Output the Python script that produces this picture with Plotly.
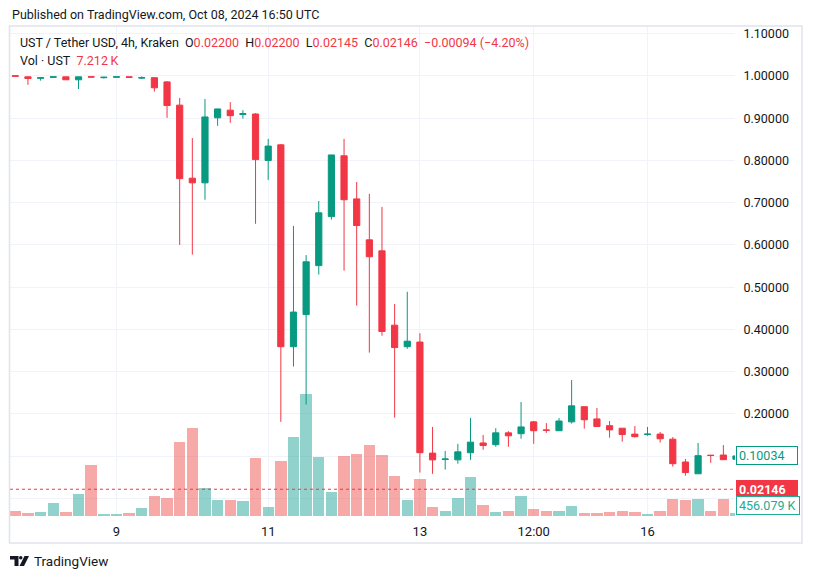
import plotly.graph_objects as go
import pandas as pd

# UST / Tether USD, 4h candles, Kraken (May 2022 depeg)
times = pd.date_range("2022-05-07 16:00", periods=58, freq="4h").strftime("%Y-%m-%d %H:%M").tolist()

opens = [1.0005, 0.998, 0.9945, 0.997, 0.998, 0.991, 0.998, 0.996, 0.997, 0.998,
         0.995, 0.996, 0.986, 0.931, 0.758, 0.747, 0.901, 0.919, 0.909, 0.910,
         0.800, 0.837, 0.359, 0.435, 0.551, 0.667, 0.811, 0.709, 0.612, 0.586,
         0.410, 0.359, 0.370, 0.107, 0.092, 0.091, 0.108, 0.131, 0.127, 0.155,
         0.153, 0.181, 0.162, 0.160, 0.181, 0.217, 0.188, 0.172, 0.166, 0.152,
         0.151, 0.152, 0.140, 0.086, 0.058, 0.102, 0.1025, 0.0925]
highs = [1.001, 0.999, 0.9965, 0.998, 0.998, 0.998, 0.999, 0.998, 0.998, 0.998,
         0.999, 0.996, 0.988, 0.948, 0.853, 0.9455, 0.922, 0.938, 0.919, 0.912,
         0.851, 0.839, 0.645, 0.576, 0.704, 0.813, 0.851, 0.749, 0.721, 0.690,
         0.460, 0.489, 0.391, 0.169, 0.112, 0.129, 0.190, 0.150, 0.166, 0.159,
         0.228, 0.183, 0.178, 0.190, 0.280, 0.217, 0.214, 0.183, 0.166, 0.171,
         0.169, 0.157, 0.145, 0.093, 0.131, 0.102, 0.126, 0.1005]
lows = [0.999, 0.979, 0.989, 0.997, 0.991, 0.969, 0.997, 0.994, 0.997, 0.997,
        0.993, 0.963, 0.901, 0.600, 0.577, 0.707, 0.882, 0.889, 0.899, 0.650,
        0.754, 0.181, 0.312, 0.222, 0.530, 0.660, 0.539, 0.456, 0.345, 0.385,
        0.191, 0.354, 0.061, 0.058, 0.068, 0.082, 0.091, 0.115, 0.122, 0.122,
        0.141, 0.129, 0.155, 0.160, 0.177, 0.165, 0.170, 0.1435, 0.134, 0.1435,
        0.148, 0.132, 0.075, 0.0535, 0.058, 0.084, 0.0915, 0.0925]
closes = [0.9995, 0.994, 0.996, 0.998, 0.991, 0.998, 0.9975, 0.997, 0.998, 0.997,
          0.996, 0.972, 0.930, 0.757, 0.747, 0.903, 0.922, 0.906, 0.911, 0.802,
          0.834, 0.359, 0.441, 0.560, 0.676, 0.813, 0.707, 0.646, 0.572, 0.395,
          0.357, 0.372, 0.108, 0.091, 0.093, 0.110, 0.133, 0.125, 0.155, 0.148,
          0.169, 0.160, 0.161, 0.183, 0.219, 0.186, 0.170, 0.162, 0.151, 0.146,
          0.152, 0.141, 0.082, 0.061, 0.101, 0.1015, 0.0915, 0.10034]
# volume in millions of UST
volumes = [0.72, 0.46, 0.56, 1.93, 0.56, 3.30, 7.72, 0.26, 0.26, 0.41,
           1.17, 3.00, 2.69, 11.22, 13.35, 4.22, 2.39, 2.39, 2.24, 8.78,
           1.32, 8.33, 11.98, 18.52, 8.93, 3.61, 9.09, 9.39, 10.76, 9.24,
           6.04, 2.39, 5.59, 1.32, 0.72, 2.69, 5.89, 1.63, 0.56, 0.72,
           3.00, 1.02, 0.72, 0.72, 1.48, 0.41, 0.41, 0.56, 0.72, 0.56,
           0.26, 0.72, 2.54, 2.39, 2.54, 0.72, 2.54, 0.456079]

tick_times = ["2022-05-09 00:00", "2022-05-11 00:00", "2022-05-13 00:00",
              "2022-05-14 12:00", "2022-05-16 00:00"]
tick_labels = ["9", "11", "13", "12:00", "16"]
price_ticks = [0.0, 0.1, 0.2, 0.3, 0.4, 0.5, 0.6, 0.7, 0.8, 0.9, 1.0, 1.1]
# 0 and 0.1 labels sit behind the last-value boxes, so they stay blank
price_labels = ["", ""] + [f"{v:.5f}" for v in price_ticks[2:]]

last_close = 0.10034
current_price = 0.02146
last_volume = 0.456079

UP = "#089981"
DOWN = "#F23645"
TEXT = "#131722"
GRID = "#F0F3FA"
FONT = "Roboto"

# page body has an 8px margin, so the figure is a bit smaller than the window
OFF = 8
W, H = 813 - OFF, 579 - OFF
L, R, T, B = 2, 78, 19, 63
PW, PH = W - L - R, H - T - B


def px_x(x):
    # screen pixel -> paper fraction
    return (x - OFF - L) / PW


def px_y(y):
    return (H - B - (y - OFF)) / PH


vol_colors = ["rgba(38,166,154,0.5)" if c > o else "rgba(239,83,80,0.5)"
              for o, c in zip(opens, closes)]

fig = go.Figure()
fig.add_trace(go.Bar(x=times, y=volumes, marker=dict(color=vol_colors, line_width=0),
                     width=0.9, yaxis="y", hoverinfo="skip"))
fig.add_trace(go.Candlestick(x=times, open=opens, high=highs, low=lows, close=closes,
                             yaxis="y2", whiskerwidth=0,
                             increasing=dict(line=dict(color=UP, width=1), fillcolor=UP),
                             decreasing=dict(line=dict(color=DOWN, width=1), fillcolor=DOWN)))

fig.update_layout(
    width=W, height=H,
    margin=dict(l=L, r=R, t=T, b=B),
    paper_bgcolor="white", plot_bgcolor="white",
    showlegend=False, boxgap=0.3, bargap=0,
    font=dict(family=FONT, color=TEXT, size=12),
    xaxis=dict(type="category", range=[-0.42, 56.92], tickvals=tick_times, ticktext=tick_labels,
               showgrid=True, gridcolor=GRID, gridwidth=1, ticks="outside", ticklen=3,
               tickcolor="rgba(0,0,0,0)", tickfont=dict(size=13, color=TEXT),
               zeroline=False, showline=False, rangeslider=dict(visible=False)),
    yaxis=dict(range=[0, 74.4], visible=False, fixedrange=True),
    yaxis2=dict(overlaying="y", side="right", range=[-0.0419, 1.116], tickvals=price_ticks,
                ticktext=price_labels, showgrid=True, gridcolor=GRID, gridwidth=1,
                ticks="outside", ticklen=5, tickcolor="rgba(0,0,0,0)",
                tickfont=dict(size=12.5, color=TEXT), zeroline=False, showline=False),
)

# current price line
fig.add_shape(type="line", xref="paper", x0=0, x1=1, yref="y2", y0=current_price, y1=current_price,
              line=dict(color=DOWN, width=1, dash="dot"))

# chart frame
fig.add_shape(type="rect", xref="paper", yref="paper", x0=px_x(9.5), x1=px_x(802),
              y0=px_y(26), y1=px_y(543), line=dict(color="#E0E3EB", width=1.5))

# price scale labels
fig.add_annotation(xref="paper", x=1, xshift=1, xanchor="left", yref="y2", y=last_close,
                   text=f"{last_close:.5f}", showarrow=False, font=dict(size=12.5, color=UP),
                   bgcolor="white", bordercolor=UP, borderwidth=1, borderpad=2,
                   width=56, height=13, align="left")
fig.add_annotation(xref="paper", x=1, xshift=1, xanchor="left", yref="y2", y=current_price,
                   text=f"<b>{current_price:.5f}</b>", showarrow=False,
                   font=dict(size=12.5, color="white"), bgcolor=DOWN, bordercolor=DOWN,
                   borderwidth=1, borderpad=2, width=56, height=13, align="left")
fig.add_annotation(xref="paper", x=1, xshift=1, xanchor="left", yref="y", y=last_volume, yshift=8,
                   text=f"{last_volume * 1000:.3f} K", showarrow=False,
                   font=dict(size=12.5, color="#22AB94"), bgcolor="white", bordercolor="#22AB94",
                   borderwidth=1, borderpad=2, width=58, height=13, align="left")

# header and legend texts
fig.add_annotation(xref="paper", yref="paper", x=px_x(10), y=px_y(14), xanchor="left",
                   yanchor="middle", showarrow=False,
                   text="Published on TradingView.com, Oct 08, 2024 16:50 UTC",
                   font=dict(size=12.5, color=TEXT))

red = lambda s: f"<span style='color:{DOWN}'>{s}</span>"
legend_txt = ("UST / Tether USD, 4h, Kraken&nbsp;&nbsp;O" + red("0.02200") + "&nbsp;&nbsp;H" + red("0.02200")
              + "&nbsp;&nbsp;L" + red("0.02145") + "&nbsp;&nbsp;C" + red("0.02146")
              + "&nbsp;&nbsp;" + red("\u22120.00094 (\u22124.20%)"))
fig.add_annotation(xref="paper", yref="paper", x=px_x(18), y=px_y(42), xanchor="left",
                   yanchor="middle", showarrow=False, text=legend_txt,
                   font=dict(size=12.5, color=TEXT))
fig.add_annotation(xref="paper", yref="paper", x=px_x(18), y=px_y(60), xanchor="left",
                   yanchor="middle", showarrow=False,
                   text="Vol \u00b7 UST&nbsp;&nbsp;" + red("7.212\u2009K"),
                   font=dict(size=12.5, color=TEXT))


# TradingView logo
def pth(points):
    return "M " + " L ".join(f"{px_x(a)},{px_y(b)}" for a, b in points) + " Z"


fig.add_shape(type="path", xref="paper", yref="paper", fillcolor=TEXT, line_width=0,
              path=pth([(10, 556), (18.5, 556), (18.5, 566), (14.5, 566), (14.5, 559.5), (10, 559.5)]))
fig.add_shape(type="circle", xref="paper", yref="paper", fillcolor=TEXT, line_width=0,
              x0=px_x(19), x1=px_x(22.5), y0=px_y(556), y1=px_y(559.5))
fig.add_shape(type="path", xref="paper", yref="paper", fillcolor=TEXT, line_width=0,
              path=pth([(24.5, 556), (29, 556), (24, 566), (19.5, 566)]))
fig.add_annotation(xref="paper", yref="paper", x=px_x(32), y=px_y(561), xanchor="left",
                   yanchor="middle", showarrow=False, text="TradingView",
                   font=dict(size=13.5, color=TEXT))

fig.write_html("out.html")
